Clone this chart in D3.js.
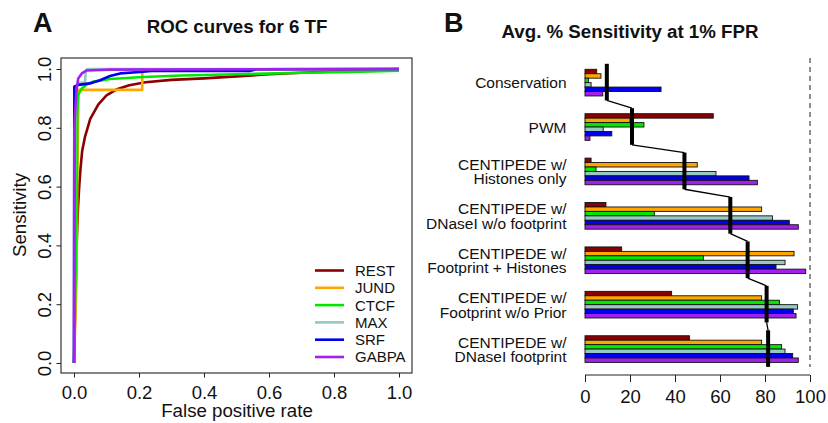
<!DOCTYPE html>
<html>
<head>
<meta charset="utf-8">
<script src="https://cdn.jsdelivr.net/npm/d3@7"></script>
<style>
  html, body { margin: 0; padding: 0; background: #fff; }
  svg { display: block; font-family: "Liberation Sans", Arial, Helvetica, sans-serif; }
</style>
</head>
<body>
<svg id="chart" width="828" height="423"></svg>
<script>
// ---------------- DATA ----------------
const tfNames = ["REST", "JUND", "CTCF", "MAX", "SRF", "GABPA"];
const tfColors = ["#8B0000", "#FFA500", "#00E800", "#96C9C1", "#0000EE", "#A020F0"];

// ROC curves (false positive rate, sensitivity)
const restFpr = [0, 0.004, 0.008, 0.012, 0.016, 0.02, 0.025, 0.034, 0.05, 0.075, 0.10, 0.13, 0.17, 0.22, 0.3, 0.4, 0.5, 0.6, 0.7, 0.8, 0.9, 1.0];
const restTpr = [0, 0.2, 0.4, 0.52, 0.6, 0.66, 0.72, 0.77, 0.83, 0.88, 0.91, 0.93, 0.945, 0.955, 0.963, 0.968, 0.975, 0.982, 0.987, 0.992, 0.996, 1.0];
const jundFpr = [0, 0.008, 0.01, 0.013, 0.013, 0.21, 0.21, 1.0];
const jundTpr = [0, 0.3, 0.6, 0.85, 0.929, 0.929, 0.997, 1.0];
const ctcfFpr = [0, 0.008, 0.01, 0.013, 0.024, 0.04, 0.059, 0.111, 0.213, 0.33, 0.5, 0.7, 0.85, 1.0];
const ctcfTpr = [0, 0.5, 0.85, 0.912, 0.934, 0.948, 0.957, 0.966, 0.973, 0.978, 0.982, 0.987, 0.99, 0.994];
const maxFpr = [0, 0.004, 0.008, 0.015, 0.034, 0.036, 0.04, 1.0];
const maxTpr = [0, 0.9, 0.94, 0.952, 0.955, 0.99, 1.0, 1.0];
const srfFpr = [0, 0.001, 0.005, 0.013, 0.049, 0.08, 0.111, 0.142, 0.203, 0.239, 0.54, 0.56, 1.0];
const srfTpr = [0, 0.94, 0.942, 0.946, 0.951, 0.962, 0.976, 0.985, 0.99, 0.993, 0.993, 0.999, 1.0];
const gabpaFpr = [0, 0.001, 0.003, 0.006, 0.009, 0.013, 0.024, 0.039, 0.111, 1.0];
const gabpaTpr = [0, 0.8, 0.838, 0.9, 0.94, 0.968, 0.985, 0.995, 0.998, 1.0];

const rocFpr = [restFpr, jundFpr, ctcfFpr, maxFpr, srfFpr, gabpaFpr];
const rocTpr = [restTpr, jundTpr, ctcfTpr, maxTpr, srfTpr, gabpaTpr];

const rocXTicks = [0, 0.2, 0.4, 0.6, 0.8, 1.0];
const rocYTicks = [0, 0.2, 0.4, 0.6, 0.8, 1.0];

// Avg % sensitivity at 1% FPR, by method
const methods = [
  "Conservation",
  "PWM",
  "CENTIPEDE w/\nHistones only",
  "CENTIPEDE w/\nDNaseI w/o footprint",
  "CENTIPEDE w/\nFootprint + Histones",
  "CENTIPEDE w/\nFootprint w/o Prior",
  "CENTIPEDE w/\nDNaseI footprint"
];
const restSens  = [5.2, 57.0, 2.7, 9.3, 16.3, 38.5, 46.4];
const jundSens  = [7.1, 20.0, 49.9, 78.5, 92.9, 78.5, 78.5];
const ctcfSens  = [1.5, 26.2, 4.9, 30.8, 52.6, 86.4, 87.4];
const maxSens   = [2.7, 8.1, 58.2, 83.3, 88.9, 94.5, 88.9];
const srfSens   = [33.8, 11.9, 72.9, 90.8, 84.9, 92.6, 92.3];
const gabpaSens = [7.9, 2.2, 76.6, 94.8, 98.1, 93.8, 94.8];
const sensSeries = [restSens, jundSens, ctcfSens, maxSens, srfSens, gabpaSens];
const sensTicks = [0, 20, 40, 60, 80, 100];

// ---------------- DRAW ----------------
const svg = d3.select("#chart");
const ink = "#111";

// ===== Panel A =====
const xA = d3.scaleLinear().domain([0, 1]).range([74, 399]);
const yA = d3.scaleLinear().domain([0, 1]).range([363, 69]);

svg.append("text").attr("x", 33).attr("y", 31.5)
  .attr("font-size", 27).attr("font-weight", "bold").attr("fill", ink).text("A");
svg.append("text").attr("x", 237).attr("y", 32.5).attr("text-anchor", "middle")
  .attr("font-size", 18.7).attr("font-weight", "bold").attr("fill", ink).text("ROC curves for 6 TF");

const line = d3.line().x(d => xA(d[0])).y(d => yA(d[1]));
tfNames.forEach((n, i) => {
  const pts = rocFpr[i].map((f, k) => [f, rocTpr[i][k]]);
  svg.append("path").datum(pts).attr("d", line)
    .attr("fill", "none").attr("stroke", tfColors[i]).attr("stroke-width", 2.6)
    .attr("stroke-linejoin", "round");
});

svg.append("rect").attr("x", 61).attr("y", 58).attr("width", 351).attr("height", 315)
  .attr("fill", "none").attr("stroke", "#222").attr("stroke-width", 1.1);

const axA_x = svg.append("g").attr("transform", "translate(0,373)")
  .call(d3.axisBottom(xA).tickValues(rocXTicks).tickSize(4.5).tickPadding(8).tickFormat(d3.format(".1f")));
axA_x.select(".domain").remove();
axA_x.selectAll("text").attr("font-size", 18.5).attr("fill", ink).attr("font-family", null);
axA_x.selectAll("line").attr("stroke", "#222");

const axA_y = svg.append("g").attr("transform", "translate(61,0)")
  .call(d3.axisLeft(yA).tickValues(rocYTicks).tickSize(4.5).tickFormat(d3.format(".1f")));
axA_y.select(".domain").remove();
axA_y.selectAll("line").attr("stroke", "#222");
axA_y.selectAll("text")
  .attr("transform", "rotate(-90)").attr("x", 0).attr("y", -10.5).attr("dy", 0)
  .attr("text-anchor", "middle").attr("font-size", 18.5).attr("fill", ink).attr("font-family", null);

svg.append("text").attr("x", 237).attr("y", 417).attr("text-anchor", "middle")
  .attr("font-size", 18.7).attr("fill", ink).text("False positive rate");
svg.append("text").attr("transform", "translate(25.5,215) rotate(-90)").attr("text-anchor", "middle")
  .attr("font-size", 18.7).attr("fill", ink).text("Sensitivity");

// legend
const legY = d3.scalePoint().domain(tfNames).range([270.5, 357]);
const leg = svg.append("g");
tfNames.forEach((n, i) => {
  leg.append("line").attr("x1", 315).attr("x2", 344).attr("y1", legY(n)).attr("y2", legY(n))
    .attr("stroke", tfColors[i]).attr("stroke-width", 2.6);
  leg.append("text").attr("x", 355).attr("y", legY(n)).attr("dy", "0.36em")
    .attr("font-size", 15).attr("fill", ink).text(n);
});

// ===== Panel B =====
const xB = d3.scaleLinear().domain([0, 100]).range([585, 810]);
const yG = d3.scaleBand().domain(methods).range([69.3, 362.4]).paddingInner(0.4).paddingOuter(0);
const yI = d3.scaleBand().domain(tfNames).range([0, yG.bandwidth()]);

svg.append("text").attr("x", 444).attr("y", 31.5)
  .attr("font-size", 27).attr("font-weight", "bold").attr("fill", ink).text("B");
svg.append("text").attr("x", 630).attr("y", 38.3).attr("text-anchor", "middle")
  .attr("font-size", 18.7).attr("font-weight", "bold").attr("fill", ink).text("Avg. % Sensitivity at 1% FPR");

// dashed 100% line
svg.append("line").attr("x1", xB(100)).attr("x2", xB(100)).attr("y1", 58).attr("y2", 367)
  .attr("stroke", "#333").attr("stroke-width", 1.1).attr("stroke-dasharray", "5,4");

// bars
methods.forEach((m, gi) => {
  const g = svg.append("g").attr("transform", `translate(0,${yG(m)})`);
  tfNames.forEach((n, ti) => {
    g.append("rect").attr("x", xB(0)).attr("y", yI(n))
      .attr("width", xB(sensSeries[ti][gi]) - xB(0)).attr("height", yI.bandwidth())
      .attr("fill", tfColors[ti]).attr("stroke", "#111").attr("stroke-width", 0.9);
  });
  // labels
  const lines = m.split("\n");
  const cy = yG(m) + yG.bandwidth() / 2;
  const t = svg.append("text").attr("text-anchor", "end").attr("font-size", 15.5).attr("fill", ink);
  if (lines.length === 1) {
    t.append("tspan").attr("x", 566.5).attr("y", cy + 5.8).text(lines[0]);
  } else {
    t.append("tspan").attr("x", 566.5).attr("y", cy - 1.5).text(lines[0]);
    t.append("tspan").attr("x", 566.5).attr("y", cy + 13).text(lines[1]);
  }
});

// mean line
const means = methods.map((m, gi) => d3.mean(sensSeries, s => s[gi]));
methods.forEach((m, gi) => {
  const top = yG(m) - 5.5, bot = yG(m) + yG.bandwidth() + 4.5;
  svg.append("line").attr("x1", xB(means[gi])).attr("x2", xB(means[gi]))
    .attr("y1", top).attr("y2", bot).attr("stroke", "#000").attr("stroke-width", 4);
  if (gi < methods.length - 1) {
    const nm = methods[gi + 1];
    svg.append("line").attr("x1", xB(means[gi])).attr("y1", bot)
      .attr("x2", xB(means[gi + 1])).attr("y2", yG(nm) - 5.5)
      .attr("stroke", "#000").attr("stroke-width", 1.3);
  }
});

// bottom axis
const axB = svg.append("g").attr("transform", "translate(0,375)")
  .call(d3.axisBottom(xB).tickValues(sensTicks).tickSize(7).tickPadding(8).tickFormat(d3.format("d")));
axB.select(".domain").attr("d", `M${xB(0)},0H${xB(100)}`).attr("stroke", "#222");
axB.selectAll("line").attr("stroke", "#222");
axB.selectAll("text").attr("font-size", 18.5).attr("fill", ink).attr("font-family", null);
</script>
</body>
</html>
